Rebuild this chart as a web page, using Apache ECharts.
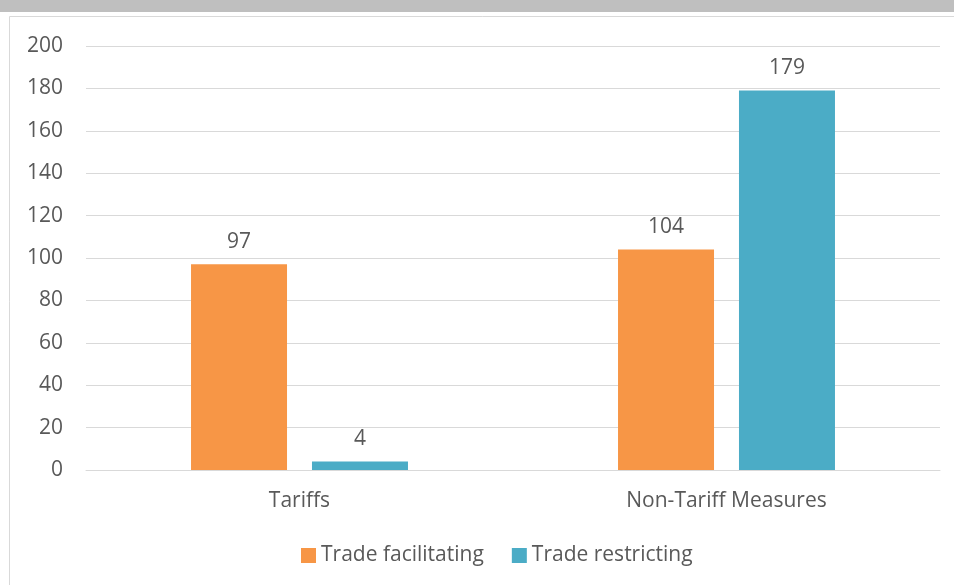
<!DOCTYPE html>
<html>
<head>
<meta charset="utf-8">
<script src="https://cdn.jsdelivr.net/npm/echarts@6/dist/echarts.min.js"></script>
<style>
  html, body { margin: 0; padding: 0; background: #ffffff; }
  #chart { width: 954px; height: 585px; }
</style>
</head>
<body>
<div id="chart"></div>
<script>
// Measure counts by type and direction
const categories = ['Tariffs', 'Non-Tariff Measures'];
const facilitating = [97, 104];
const restricting = [4, 179];
const yTicks = { min: 0, max: 200, interval: 20 };

const textColor = '#595959';
const fontFamily = '"Open Sans", "Noto Sans", "Liberation Sans", sans-serif';
const fontSize = 21;

const chart = echarts.init(document.getElementById('chart'), null, { renderer: 'canvas' });

const labelStyle = {
  show: true,
  position: 'top',
  distance: 12,
  color: textColor,
  fontSize: fontSize,
  fontFamily: fontFamily
};

chart.setOption({
  animation: false,
  backgroundColor: '#ffffff',
  graphic: [
    { type: 'rect', shape: { x: 0, y: 0, width: 954, height: 12 }, style: { fill: '#bfbfbf' }, silent: true },
    { type: 'rect', shape: { x: 9.5, y: 16.5, width: 960, height: 600 }, style: { fill: 'none', stroke: '#d9d9d9', lineWidth: 1 }, silent: true }
  ],
  grid: { left: 86, right: 14, top: 46, bottom: 115, containLabel: false },
  legend: {
    bottom: 14,
    left: 296,
    itemWidth: 15,
    itemHeight: 15,
    itemGap: 28,
    icon: 'rect',
    textStyle: { color: textColor, fontSize: fontSize, fontFamily: fontFamily },
    data: ['Trade facilitating', 'Trade restricting']
  },
  xAxis: {
    type: 'category',
    data: categories,
    axisLine: { show: true, lineStyle: { color: '#d9d9d9', width: 1 } },
    axisTick: { show: false },
    axisLabel: { color: textColor, fontSize: fontSize, fontFamily: fontFamily, margin: 21 }
  },
  yAxis: {
    type: 'value',
    min: yTicks.min,
    max: yTicks.max,
    interval: yTicks.interval,
    axisLine: { show: false },
    axisTick: { show: false },
    splitLine: { lineStyle: { color: '#d9d9d9', width: 1 } },
    axisLabel: { color: textColor, fontSize: fontSize, fontFamily: fontFamily, margin: 23 }
  },
  series: [
    {
      name: 'Trade facilitating',
      type: 'bar',
      data: facilitating,
      barWidth: 96,
      barGap: '26%',
      itemStyle: { color: '#f79646' },
      label: labelStyle
    },
    {
      name: 'Trade restricting',
      type: 'bar',
      data: restricting,
      barWidth: 96,
      itemStyle: { color: '#4bacc6' },
      label: labelStyle
    }
  ]
});
</script>
</body>
</html>
